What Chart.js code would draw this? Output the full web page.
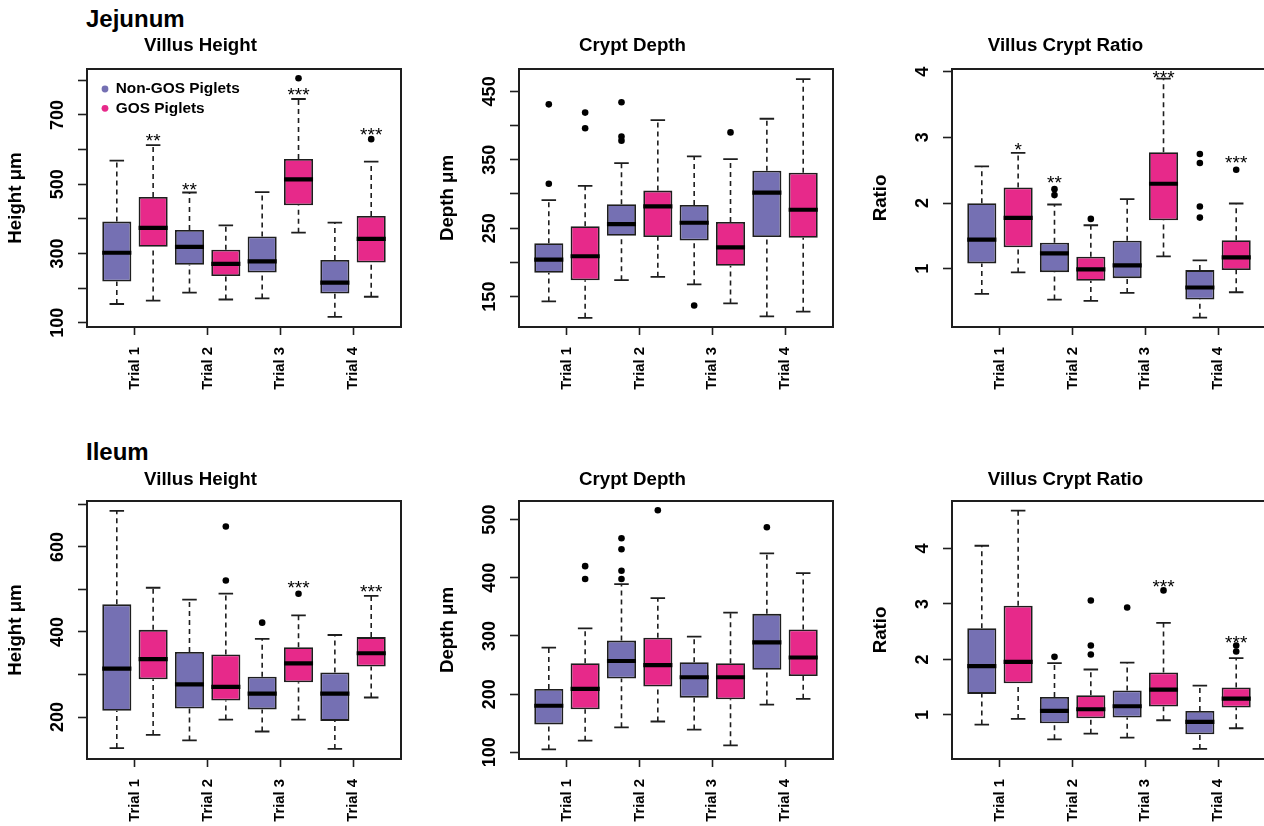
<!DOCTYPE html>
<html><head><meta charset="utf-8">
<script src="https://cdn.jsdelivr.net/npm/chart.js@4.4.1/dist/chart.umd.min.js"></script>
<style>
html,body{margin:0;padding:0;background:#fff;overflow:hidden;width:1264px;height:826px;position:relative;}
.h{position:absolute;font-family:"Liberation Sans",Arial,Helvetica,sans-serif;font-weight:bold;font-size:24px;line-height:24px;color:#000;white-space:nowrap;}
canvas{position:absolute;}
</style></head><body>
<div class="h" style="left:86px;top:7px">Jejunum</div>
<div class="h" style="left:86px;top:440px">Ileum</div>
<canvas id="c1" width="488" height="362" style="left:0px;top:35px"></canvas>
<canvas id="c2" width="488" height="362" style="left:432px;top:35px"></canvas>
<canvas id="c3" width="488" height="362" style="left:865px;top:35px"></canvas>
<canvas id="c4" width="488" height="360" style="left:0px;top:469px"></canvas>
<canvas id="c5" width="488" height="360" style="left:432px;top:469px"></canvas>
<canvas id="c6" width="488" height="360" style="left:865px;top:469px"></canvas>
<script>
// ---------- data ----------
const trialLabels = ['Trial 1','Trial 2','Trial 3','Trial 4'];
const groupNames = ['Non-GOS Piglets','GOS Piglets'];
// five-number boxes per trial: [lower whisker, Q1, median, Q3, upper whisker]

// Jejunum - Villus Height
const jejVH_non = [[154,219,302,392,568],[187,267,319,368,476],[170,245,277,349,477],[117,184,216,281,389]];
const jejVH_gos = [[164,319,374,463,613],[167,235,270,311,381],[360,439,514,573,746],[175,274,342,408,565]];
const jejVH_nonOut = [[],[],[],[]];
const jejVH_gosOut = [[],[],[806],[630]];
const jejVH_nonStars = [null,['**',498],null,null];
const jejVH_gosStars = [['**',638],null,['***',772],['***',657]];
const jejVH_ticks = [100,200,300,400,500,600,700,800];
const jejVH_tickLabels = [100,300,500,700];
const jejVH_range = [87.6,832.6];

// Jejunum - Crypt Depth
const jejCD_non = [[143,185,204,228,291],[174,239,256,285,345],[168,232,258,284,355],[121,237,302,334,410]];
const jejCD_gos = [[119,174,209,253,312],[179,237,282,305,408],[140,195,222,259,351],[128,236,277,331,468]];
const jejCD_nonOut = [[431,315],[434,384,378],[137],[]];
const jejCD_gosOut = [[419,396],[],[390],[]];
const jejCD_nonStars = [null,null,null,null];
const jejCD_gosStars = [null,null,null,null];
const jejCD_ticks = [150,200,250,300,350,400,450];
const jejCD_tickLabels = [150,250,350,450];
const jejCD_range = [105.6,482.7];

// Jejunum - Villus Crypt Ratio
const jejVCR_non = [[0.618,1.082,1.443,1.998,2.559],[0.531,0.949,1.234,1.397,1.978],[0.633,0.857,1.051,1.428,2.06],[0.256,0.531,0.715,0.98,1.127]];
const jejVCR_gos = [[0.944,1.326,1.774,2.238,2.763],[0.511,0.817,0.99,1.183,1.662],[1.188,1.739,2.294,2.773,3.894],[0.643,0.98,1.173,1.433,1.993]];
const jejVCR_nonOut = [[],[2.212,2.121],[],[2.747,2.61,1.948,1.779]];
const jejVCR_gosOut = [[],[1.759],[],[2.508]];
const jejVCR_nonStars = [null,['**',2.386],null,null];
const jejVCR_gosStars = [['*',2.88],null,['***',3.985],['***',2.691]];
const jejVCR_ticks = [1,2,3,4];
const jejVCR_tickLabels = [1,2,3,4];
const jejVCR_range = [0.114,4.04];

// Ileum - Villus Height
const ilVH_non = [[127,215,314,465,685],[145,220,277,353,476],[166,218,255,295,384],[125,191,255,305,393]];
const ilVH_gos = [[158,289,336,405,504],[194,239,271,347,490],[194,282,326,364,439],[246,319,350,388,485]];
const ilVH_nonOut = [[],[],[422],[]];
const ilVH_gosOut = [[],[648,521],[490],[]];
const ilVH_nonStars = [null,null,null,null];
const ilVH_gosStars = [null,null,['***',516],['***',507]];
const ilVH_ticks = [200,300,400,500,600,700];
const ilVH_tickLabels = [200,400,600];
const ilVH_range = [101.4,708];

// Ileum - Crypt Depth
const ilCD_non = [[105,148,180,209,280],[143,227,257,292,389],[139,194,229,255,299],[182,242,289,338,442]];
const ilCD_gos = [[120,174,209,253,313],[153,213,250,297,365],[112,191,229,253,340],[192,231,263,311,408]];
const ilCD_nonOut = [[],[468,449,412,398],[],[487]];
const ilCD_gosOut = [[420,398],[516],[],[]];
const ilCD_nonStars = [null,null,null,null];
const ilCD_gosStars = [null,null,null,null];
const ilCD_ticks = [100,200,300,400,500];
const ilCD_tickLabels = [100,200,300,400,500];
const ilCD_range = [88.5,532];

// Ileum - Villus Crypt Ratio
const ilVCR_non = [[0.826,1.379,1.878,2.563,4.048],[0.561,0.85,1.072,1.325,1.932],[0.591,0.952,1.156,1.439,1.944],[0.387,0.651,0.874,1.072,1.529]];
const ilVCR_gos = [[0.928,1.571,1.956,2.966,4.679],[0.663,0.94,1.102,1.355,1.818],[0.904,1.15,1.457,1.764,2.659],[0.76,1.132,1.295,1.493,2.022]];
const ilVCR_nonOut = [[],[2.046],[2.936],[]];
const ilVCR_gosOut = [[],[3.062,2.25,2.088],[3.243],[2.25,2.142]];
const ilVCR_nonStars = [null,null,null,null];
const ilVCR_gosStars = [null,null,['***',3.393],['***',2.383]];
const ilVCR_ticks = [1,2,3,4];
const ilVCR_tickLabels = [1,2,3,4];
const ilVCR_range = [0.206,4.854];

// ---------- styling / drawing ----------
const PURPLE = '#7570B3', PINK = '#E7298A', INK = '#1e1e1e';
const FONT = '"Liberation Sans", Arial, Helvetica, sans-serif';
Chart.defaults.font.family = FONT;

function boxPos(g, i) { return 2 * i + 1 + g; }

const framePlugin = {
  id: 'frame',
  afterDatasetsDraw(chart) {
    const {ctx, chartArea: a} = chart;
    ctx.save();
    ctx.strokeStyle = INK; ctx.lineWidth = 2;
    ctx.strokeRect(a.left, a.top, a.right - a.left, a.bottom - a.top);
    ctx.restore();
  }
};

const starPlugin = {
  id: 'stars',
  afterDatasetsDraw(chart) {
    const {ctx, scales: {x, y}} = chart;
    const size = 19;
    ctx.save();
    ctx.font = 'normal ' + size + 'px ' + FONT;
    ctx.textAlign = 'center'; ctx.textBaseline = 'alphabetic'; ctx.fillStyle = '#000';
    chart.data.datasets.forEach(d => {
      if (!d.stars) return;
      d.data.forEach((pt, i) => {
        const s = d.stars[i];
        if (!s) return;
        ctx.fillText(s[0], x.getPixelForValue(pt.x), y.getPixelForValue(s[1]) + 0.58 * size);
      });
    });
    ctx.restore();
  }
};

const legendPlugin = {
  id: 'boxLegend',
  afterDatasetsDraw(chart, args, opts) {
    if (!opts || !opts.show) return;
    const {ctx, chartArea: a} = chart;
    ctx.save();
    ctx.font = 'bold 15.4px ' + FONT;
    ctx.textAlign = 'left'; ctx.textBaseline = 'middle';
    chart.data.datasets.filter(d => d.type === 'bar').forEach((d, g) => {
      const cy = a.top + 20 + g * 19.3;
      ctx.fillStyle = d.backgroundColor;
      ctx.beginPath(); ctx.arc(a.left + 18, cy, 3.4, 0, Math.PI * 2); ctx.fill();
      ctx.fillStyle = '#000';
      ctx.fillText(d.label, a.left + 28.7, cy);
    });
    ctx.restore();
  }
};

function makePanel(id, p) {
  const groups = [p.non, p.gos];
  const outs = [p.nonOut, p.gosOut];
  const stars = [p.nonStars, p.gosStars];
  const colors = [PURPLE, PINK];
  const datasets = [];
  groups.forEach((st, g) => {
    datasets.push({
      type: 'bar', label: groupNames[g],
      data: st.map((s, i) => ({x: boxPos(g, i), y: [s[1], s[3]]})),
      backgroundColor: colors[g], borderColor: INK, borderWidth: 1.8, borderSkipped: false,
      grouped: false, categoryPercentage: 1, barPercentage: 0.8, order: 3, stars: stars[g]
    });
  });
  const whisk = [], caps = [], meds = [], pts = [];
  groups.forEach((st, g) => st.forEach((s, i) => {
    const x = boxPos(g, i);
    whisk.push({x, y: s[3]}, {x, y: s[4]}, {x, y: null}, {x, y: s[0]}, {x, y: s[1]}, {x, y: null});
    caps.push({x: x - 0.2, y: s[4]}, {x: x + 0.2, y: s[4]}, {x, y: null},
              {x: x - 0.2, y: s[0]}, {x: x + 0.2, y: s[0]}, {x, y: null});
    meds.push({x: x - 0.4, y: s[2]}, {x: x + 0.4, y: s[2]}, {x, y: null});
    outs[g][i].forEach(v => pts.push({x, y: v}));
  }));
  const lineBase = {type: 'line', pointRadius: 0, tension: 0, spanGaps: false, fill: false};
  datasets.push(Object.assign({}, lineBase, {label: 'whiskers', data: whisk, borderColor: INK, borderWidth: 1.6, borderDash: [5, 4], order: 4}));
  datasets.push(Object.assign({}, lineBase, {label: 'caps', data: caps, borderColor: INK, borderWidth: 1.8, order: 2}));
  datasets.push(Object.assign({}, lineBase, {label: 'medians', data: meds, borderColor: '#000', borderWidth: 4.2, order: 1}));
  datasets.push({type: 'scatter', label: 'outliers', data: pts, pointRadius: 3.3, pointBackgroundColor: '#000', pointBorderWidth: 0, showLine: false, order: 0});

  const bold = s => ({family: FONT, size: s, weight: 'bold'});
  return new Chart(document.getElementById(id), {
    type: 'bar',
    data: {datasets},
    plugins: [framePlugin, starPlugin, legendPlugin],
    options: {
      responsive: false, animation: false, events: [],
      layout: {padding: {left: 0, right: 87, top: 0, bottom: 0}},
      plugins: {
        legend: {display: false}, tooltip: {enabled: false},
        title: {display: true, text: p.title, color: '#000', font: bold(18.7), padding: {top: 0, bottom: p.titleGap}},
        boxLegend: {show: !!p.legend}
      },
      scales: {
        x: {
          type: 'linear', min: 0.18, max: 8.82, offset: false,
          afterBuildTicks: s => { s.ticks = trialLabels.map((t, i) => ({value: 2 * i + 1.5})); },
          afterFit: s => { s.height = 70; },
          ticks: {autoSkip: false, minRotation: 90, maxRotation: 90, padding: 12, color: '#000', font: bold(14.8),
                  callback: (v, i) => trialLabels[i]},
          grid: {drawOnChartArea: false, drawTicks: true, tickLength: 8, tickWidth: 1.6, tickColor: INK, offset: false},
          border: {display: false}
        },
        y: {
          type: 'linear', min: p.range[0], max: p.range[1],
          afterBuildTicks: s => { s.ticks = p.ticks.map(v => ({value: v})); },
          afterFit: s => { s.width = 87; },
          ticks: {autoSkip: false, minRotation: 90, maxRotation: 90, crossAlign: 'center', padding: p.tickPad,
                  color: '#000', font: bold(18),
                  callback: v => p.tickLabels.includes(v) ? String(v) : ''},
          grid: {drawOnChartArea: false, drawTicks: true, tickLength: 9, tickWidth: 1.6, tickColor: INK},
          border: {display: false},
          title: {display: true, text: p.yTitle, color: '#000', font: bold(18.7), padding: {top: 5, bottom: 0}}
        }
      }
    }
  });
}

makePanel('c1', {title: 'Villus Height', yTitle: 'Height \u03bcm', legend: true, tickPad: 4.5, titleGap: 11.56,
  non: jejVH_non, gos: jejVH_gos, nonOut: jejVH_nonOut, gosOut: jejVH_gosOut,
  nonStars: jejVH_nonStars, gosStars: jejVH_gosStars, ticks: jejVH_ticks, tickLabels: jejVH_tickLabels, range: jejVH_range});
makePanel('c2', {title: 'Crypt Depth', yTitle: 'Depth \u03bcm', tickPad: 4.5, titleGap: 11.56,
  non: jejCD_non, gos: jejCD_gos, nonOut: jejCD_nonOut, gosOut: jejCD_gosOut,
  nonStars: jejCD_nonStars, gosStars: jejCD_gosStars, ticks: jejCD_ticks, tickLabels: jejCD_tickLabels, range: jejCD_range});
makePanel('c3', {title: 'Villus Crypt Ratio', yTitle: 'Ratio', tickPad: 14.5, titleGap: 11.56,
  non: jejVCR_non, gos: jejVCR_gos, nonOut: jejVCR_nonOut, gosOut: jejVCR_gosOut,
  nonStars: jejVCR_nonStars, gosStars: jejVCR_gosStars, ticks: jejVCR_ticks, tickLabels: jejVCR_tickLabels, range: jejVCR_range});
makePanel('c4', {title: 'Villus Height', yTitle: 'Height \u03bcm', tickPad: 4.5, titleGap: 9.56,
  non: ilVH_non, gos: ilVH_gos, nonOut: ilVH_nonOut, gosOut: ilVH_gosOut,
  nonStars: ilVH_nonStars, gosStars: ilVH_gosStars, ticks: ilVH_ticks, tickLabels: ilVH_tickLabels, range: ilVH_range});
makePanel('c5', {title: 'Crypt Depth', yTitle: 'Depth \u03bcm', tickPad: 4.5, titleGap: 9.56,
  non: ilCD_non, gos: ilCD_gos, nonOut: ilCD_nonOut, gosOut: ilCD_gosOut,
  nonStars: ilCD_nonStars, gosStars: ilCD_gosStars, ticks: ilCD_ticks, tickLabels: ilCD_tickLabels, range: ilCD_range});
makePanel('c6', {title: 'Villus Crypt Ratio', yTitle: 'Ratio', tickPad: 14.5, titleGap: 9.56,
  non: ilVCR_non, gos: ilVCR_gos, nonOut: ilVCR_nonOut, gosOut: ilVCR_gosOut,
  nonStars: ilVCR_nonStars, gosStars: ilVCR_gosStars, ticks: ilVCR_ticks, tickLabels: ilVCR_tickLabels, range: ilVCR_range});
</script>
</body></html>
